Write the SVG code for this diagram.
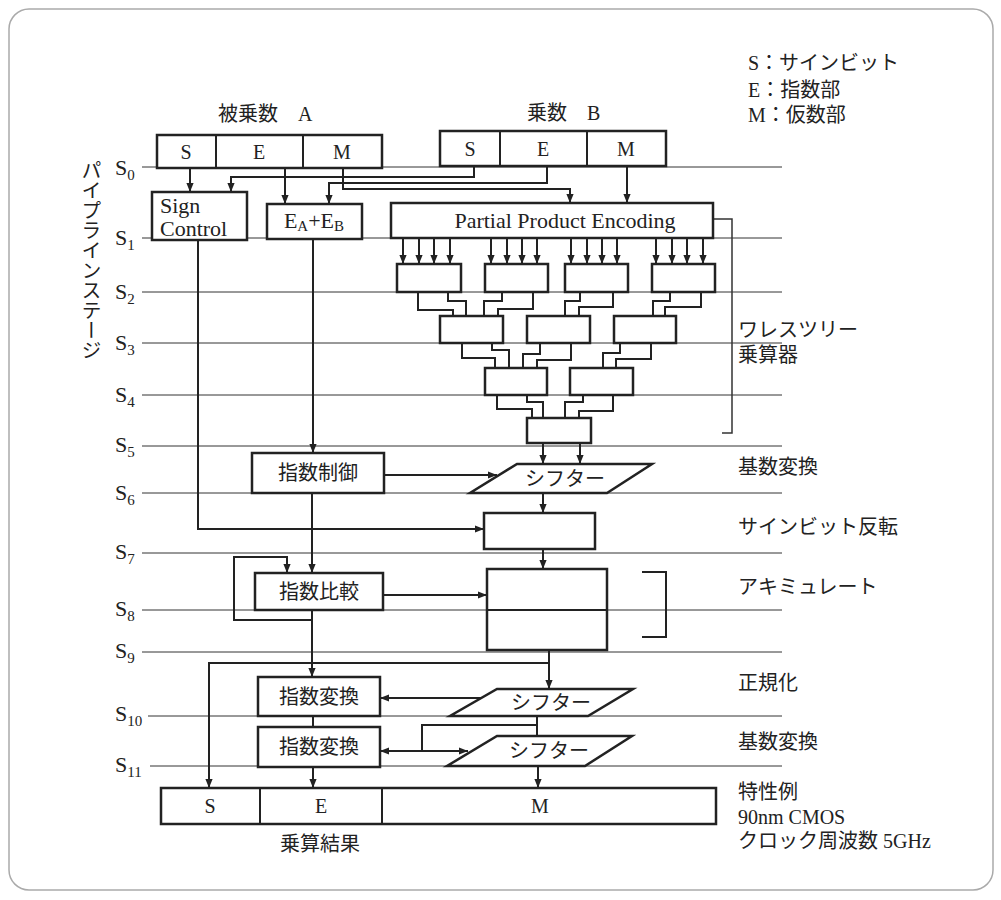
<svg xmlns="http://www.w3.org/2000/svg" width="1001" height="900" viewBox="0 0 1001 900">
<style>
.box{fill:#fff;stroke:#222;stroke-width:2.5}
.ln{fill:none;stroke:#222;stroke-width:2}
.stage{stroke:#333;stroke-width:1}
.t{font-family:"Liberation Serif","Noto Sans CJK JP",serif;font-size:20px;fill:#222}
.lg{font-size:22px}
.c{text-anchor:middle}
.sub{font-size:13px}
.ssub{font-size:15px}
</style>
<defs>
<marker id="ah" viewBox="0 0 10 10" refX="10" refY="5" markerWidth="10" markerHeight="9" markerUnits="userSpaceOnUse" orient="auto-start-reverse">
<path d="M0,1 L10,5 L0,9 z" fill="#222"/>
</marker>
</defs>
<rect x="9" y="9" width="984" height="881" rx="20" fill="#fff" stroke="#aaa" stroke-width="1.5"/>

<g id="stages">
<line class="stage" x1="142" y1="167" x2="782" y2="167"/>
<line class="stage" x1="142" y1="238" x2="782" y2="238"/>
<line class="stage" x1="142" y1="292" x2="782" y2="292"/>
<line class="stage" x1="142" y1="343" x2="782" y2="343"/>
<line class="stage" x1="142" y1="395" x2="782" y2="395"/>
<line class="stage" x1="142" y1="446" x2="782" y2="446"/>
<line class="stage" x1="142" y1="493" x2="782" y2="493"/>
<line class="stage" x1="142" y1="553" x2="782" y2="553"/>
<line class="stage" x1="142" y1="610" x2="782" y2="610"/>
<line class="stage" x1="142" y1="652" x2="782" y2="652"/>
<line class="stage" x1="148" y1="716" x2="782" y2="716"/>
<line class="stage" x1="150" y1="766" x2="782" y2="766"/>
<g class="t lg">
<text x="115" y="175">S<tspan class="ssub" dy="5">0</tspan></text>
<text x="115" y="245">S<tspan class="ssub" dy="5">1</tspan></text>
<text x="115" y="299">S<tspan class="ssub" dy="5">2</tspan></text>
<text x="115" y="350">S<tspan class="ssub" dy="5">3</tspan></text>
<text x="115" y="402">S<tspan class="ssub" dy="5">4</tspan></text>
<text x="115" y="452">S<tspan class="ssub" dy="5">5</tspan></text>
<text x="115" y="500">S<tspan class="ssub" dy="5">6</tspan></text>
<text x="115" y="559">S<tspan class="ssub" dy="5">7</tspan></text>
<text x="115" y="616">S<tspan class="ssub" dy="5">8</tspan></text>
<text x="115" y="658">S<tspan class="ssub" dy="5">9</tspan></text>
<text x="115" y="721">S<tspan class="ssub" dy="5">10</tspan></text>
<text x="115" y="772">S<tspan class="ssub" dy="5">11</tspan></text>
</g>
<text class="t" x="90" y="160" writing-mode="vertical-rl">パイプラインステージ</text>
</g>

<g id="connectors">
<path class="ln" d="M190,168 V192" marker-end="url(#ah)"/>
<path class="ln" d="M474,166 V177 H231 V192" marker-end="url(#ah)"/>
<path class="ln" d="M285,168 V204" marker-end="url(#ah)"/>
<path class="ln" d="M547,166 V183 H329 V204" marker-end="url(#ah)"/>
<path class="ln" d="M343,168 V189 H570 V203" marker-end="url(#ah)"/>
<path class="ln" d="M627,166 V203" marker-end="url(#ah)"/>
<path fill="none" stroke="#333" stroke-width="1.5" d="M713,219 H732 V433 H722"/>
<g>
<path class="ln" d="M403,238 V264" marker-end="url(#ah)"/>
<path class="ln" d="M419,238 V264" marker-end="url(#ah)"/>
<path class="ln" d="M434,238 V264" marker-end="url(#ah)"/>
<path class="ln" d="M450,238 V264" marker-end="url(#ah)"/>
<path class="ln" d="M491,238 V264" marker-end="url(#ah)"/>
<path class="ln" d="M507,238 V264" marker-end="url(#ah)"/>
<path class="ln" d="M522,238 V264" marker-end="url(#ah)"/>
<path class="ln" d="M537,238 V264" marker-end="url(#ah)"/>
<path class="ln" d="M571,238 V264" marker-end="url(#ah)"/>
<path class="ln" d="M587,238 V264" marker-end="url(#ah)"/>
<path class="ln" d="M602,238 V264" marker-end="url(#ah)"/>
<path class="ln" d="M617,238 V264" marker-end="url(#ah)"/>
<path class="ln" d="M656,238 V264" marker-end="url(#ah)"/>
<path class="ln" d="M672,238 V264" marker-end="url(#ah)"/>
<path class="ln" d="M687,238 V264" marker-end="url(#ah)"/>
<path class="ln" d="M703,238 V264" marker-end="url(#ah)"/>
</g>
<g>
<path class="ln" d="M418,292 V310 H453 V316"/>
<path class="ln" d="M448,292 V301 H466 V316"/>
<path class="ln" d="M502,292 V301 H484 V316"/>
<path class="ln" d="M533,292 V309 H498 V316"/>
<path class="ln" d="M580,292 V301 H565 V316"/>
<path class="ln" d="M613,292 V307 H579 V316"/>
<path class="ln" d="M670,292 V301 H653 V316"/>
<path class="ln" d="M701,292 V307 H665 V316"/>
<path class="ln" d="M462,343 V358 H495 V368"/>
<path class="ln" d="M492,343 V350 H509 V368"/>
<path class="ln" d="M540,343 V354 H523 V368"/>
<path class="ln" d="M571,343 V360 H537 V368"/>
<path class="ln" d="M620,343 V353 H603 V368"/>
<path class="ln" d="M651,343 V359 H616 V368"/>
<path class="ln" d="M497,395 V409 H532 V418"/>
<path class="ln" d="M527,395 V402 H543 V418"/>
<path class="ln" d="M583,395 V402 H565 V418"/>
<path class="ln" d="M613,395 V411 H579 V418"/>
</g>
<path class="ln" d="M543,443 V464" marker-end="url(#ah)"/>
<path class="ln" d="M580,443 V464" marker-end="url(#ah)"/>
<path class="ln" d="M313,239 V453" marker-end="url(#ah)"/>
<path class="ln" d="M198,240 V529 H484" marker-end="url(#ah)"/>
<path class="ln" d="M384,475 H497" marker-end="url(#ah)"/>
<path class="ln" d="M543,493 V513" marker-end="url(#ah)"/>
<path class="ln" d="M543,549 V569" marker-end="url(#ah)"/>
<path class="ln" d="M312,493 V573" marker-end="url(#ah)"/>
<path class="ln" d="M312,620 H234 V557 H287 V573" marker-end="url(#ah)"/>
<path class="ln" d="M312,610 V677" marker-end="url(#ah)"/>
<path class="ln" d="M383,595 H487" marker-end="url(#ah)"/>
<path class="ln" d="M549,650 V689" marker-end="url(#ah)"/>
<path class="ln" d="M549,663 H209 V788" marker-end="url(#ah)"/>
<path class="ln" d="M482,698 H380" marker-end="url(#ah)"/>
<path class="ln" d="M313,716 V727"/>
<path class="ln" d="M537,716 V736"/>
<path class="ln" d="M537,725 H422 V751"/>
<path class="ln" d="M380,751 H468" marker-start="url(#ah)" marker-end="url(#ah)"/>
<path class="ln" d="M313,767 V788" marker-end="url(#ah)"/>
<path class="ln" d="M538,766 V788" marker-end="url(#ah)"/>
</g>

<g id="multiplicand">
<text class="t" x="218" y="121">被乗数　A</text>
<rect class="box" x="157" y="135" width="225" height="33"/>
<line class="ln" x1="216" y1="135" x2="216" y2="168"/>
<line class="ln" x1="303" y1="135" x2="303" y2="168"/>
<text class="t c" x="186" y="159">S</text>
<text class="t c" x="259" y="159">E</text>
<text class="t c" x="342" y="159">M</text>
</g>
<g id="multiplier">
<text class="t" x="527" y="120">乗数　B</text>
<rect class="box" x="440" y="131" width="226" height="35"/>
<line class="ln" x1="500" y1="131" x2="500" y2="166"/>
<line class="ln" x1="587" y1="131" x2="587" y2="166"/>
<text class="t c" x="470" y="156">S</text>
<text class="t c" x="543" y="156">E</text>
<text class="t c" x="626" y="156">M</text>
</g>
<g id="sign-control">
<rect class="box" x="152" y="192" width="95" height="48"/>
<text class="t lg" x="160" y="213">Sign</text>
<text class="t lg" x="160" y="236">Control</text>
</g>
<g id="exp-add">
<rect class="box" x="267" y="204" width="95" height="35"/>
<text class="t lg c" x="314" y="228">E<tspan class="ssub" dy="3">A</tspan><tspan dy="-3">+E</tspan><tspan class="ssub" dy="3">B</tspan></text>
</g>
<g id="ppe">
<rect class="box" x="391" y="203" width="322" height="35"/>
<text class="t lg c" x="565" y="228">Partial Product Encoding</text>
</g>
<g id="wallace-tree">
<rect class="box" x="397" y="264" width="64" height="28"/>
<rect class="box" x="485" y="264" width="63" height="28"/>
<rect class="box" x="565" y="264" width="63" height="28"/>
<rect class="box" x="652" y="264" width="63" height="28"/>
<rect class="box" x="440" y="316" width="63" height="27"/>
<rect class="box" x="527" y="316" width="63" height="27"/>
<rect class="box" x="614" y="316" width="62" height="27"/>
<rect class="box" x="485" y="368" width="62" height="27"/>
<rect class="box" x="570" y="368" width="63" height="27"/>
<rect class="box" x="527" y="418" width="64" height="25"/>
</g>
<g id="exp-control">
<rect class="box" x="252" y="453" width="132" height="40"/>
<text class="t c" x="318" y="480">指数制御</text>
</g>
<g id="shifter1">
<polygon class="box" points="517,464 652,464 607,493 470,493"/>
<text class="t c" x="565" y="486">シフター</text>
</g>
<g id="sign-invert">
<rect class="box" x="484" y="513" width="111" height="36"/>
</g>
<g id="exp-compare">
<rect class="box" x="255" y="573" width="128" height="37"/>
<text class="t c" x="319" y="599">指数比較</text>
</g>
<g id="accumulator">
<rect class="box" x="487" y="569" width="120" height="81"/>
<line class="ln" x1="487" y1="610" x2="607" y2="610"/>
<path fill="none" stroke="#222" stroke-width="2" d="M642,572 H666 V637 H642"/>
</g>
<g id="exp-convert1">
<rect class="box" x="258" y="677" width="122" height="39"/>
<text class="t c" x="319" y="704">指数変換</text>
</g>
<g id="shifter2">
<polygon class="box" points="497,689 633,689 588,716 450,716"/>
<text class="t c" x="551" y="710">シフター</text>
</g>
<g id="exp-convert2">
<rect class="box" x="258" y="727" width="122" height="40"/>
<text class="t c" x="319" y="754">指数変換</text>
</g>
<g id="shifter3">
<polygon class="box" points="497,736 632,736 585,766 447,766"/>
<text class="t c" x="549" y="758">シフター</text>
</g>
<g id="result">
<rect class="box" x="161" y="788" width="555" height="36"/>
<line class="ln" x1="260" y1="788" x2="260" y2="824"/>
<line class="ln" x1="382" y1="788" x2="382" y2="824"/>
<text class="t c" x="210" y="813">S</text>
<text class="t c" x="321" y="813">E</text>
<text class="t c" x="540" y="813">M</text>
<text class="t c" x="320" y="851">乗算結果</text>
</g>

<g id="labels" class="t">
<text x="748" y="70">S：サインビット</text>
<text x="748" y="97">E：指数部</text>
<text x="748" y="122">M：仮数部</text>
<text x="738" y="337">ワレスツリー</text>
<text x="738" y="362">乗算器</text>
<text x="738" y="474">基数変換</text>
<text x="738" y="534">サインビット反転</text>
<text x="738" y="594">アキミュレート</text>
<text x="738" y="690">正規化</text>
<text x="738" y="749">基数変換</text>
<text x="738" y="799">特性例</text>
<text x="738" y="824">90nm CMOS</text>
<text x="738" y="848">クロック周波数 5GHz</text>
</g>
</svg>
